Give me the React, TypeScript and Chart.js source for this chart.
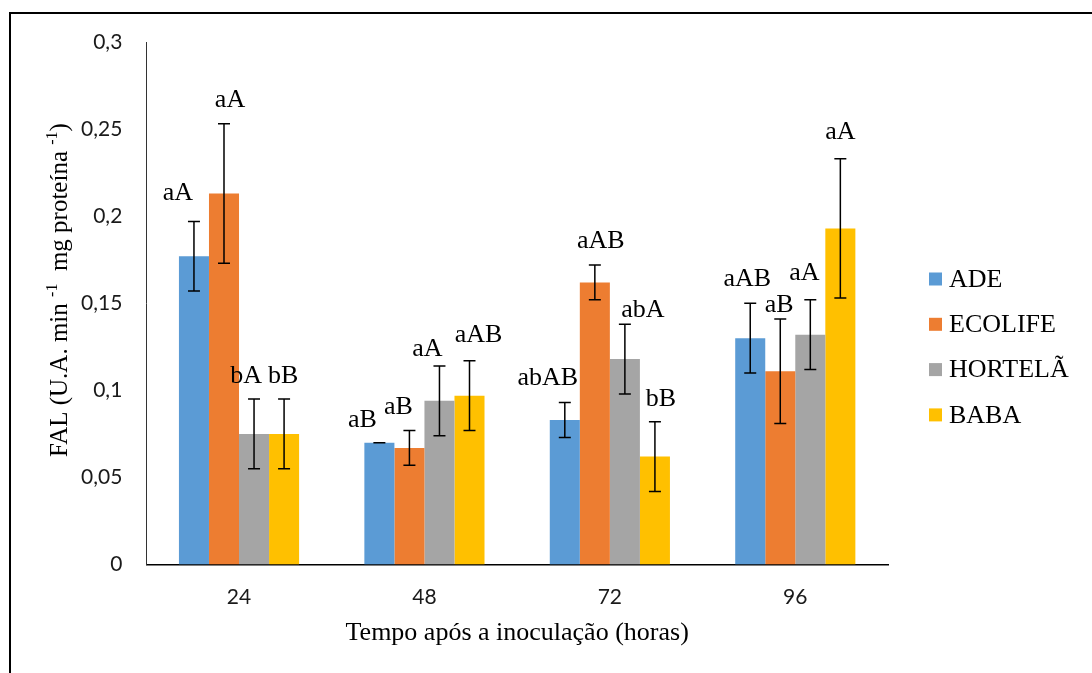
import React, { useEffect, useRef } from "react";
import { Chart, registerables } from "chart.js";

Chart.register(...registerables);

const categories = ["24", "48", "72", "96"];
const seriesNames = ["ADE", "ECOLIFE", "HORTELÃ", "BABA"];
const ade = [0.177, 0.07, 0.083, 0.13];
const ecolife = [0.213, 0.067, 0.162, 0.111];
const hortela = [0.075, 0.094, 0.118, 0.132];
const baba = [0.075, 0.097, 0.062, 0.193];
const adeErr = [0.02, 0, 0.01, 0.02];
const ecolifeErr = [0.04, 0.01, 0.01, 0.03];
const hortelaErr = [0.02, 0.02, 0.02, 0.02];
const babaErr = [0.02, 0.02, 0.02, 0.04];
const adeLabels = ["aA", "aB", "abAB", "aAB"];
const ecolifeLabels = ["aA", "aB", "aAB", "aB"];
const hortelaLabels = ["bA", "aA", "abA", "aA"];
const babaLabels = ["bB", "aAB", "bB", "aA"];
const yTicks = [0, 0.05, 0.1, 0.15, 0.2, 0.25, 0.3];
const xTitle = "Tempo após a inoculação (horas)";
const yTitleParts = [
  { text: "FAL (U.A. min ", sup: false },
  { text: "-1", sup: true },
  { text: "  mg proteína ", sup: false },
  { text: "-1", sup: true },
  { text: ")", sup: false },
];
const colors = ["#5B9BD5", "#ED7D31", "#A5A5A5", "#FFC000"];

const values = [ade, ecolife, hortela, baba];
const errors = [adeErr, ecolifeErr, hortelaErr, babaErr];
const letters = [adeLabels, ecolifeLabels, hortelaLabels, babaLabels];

// small manual nudges of the letter labels (like hand-placed labels in the source)
const LABEL_NUDGE_X = [
  [-16, -17, -17, -3],
  [6, -11, 6, -1],
  [-8, -12, 18, -6],
  [-1, 9, 6, 0],
];
const LABEL_NUDGE_Y = [
  [-5, 1, -1, -1],
  [0, 0, 0, 10],
  [0, 6, 9, -3],
  [0, -2, 1, -3],
];

const SERIF = "'Liberation Serif', 'Times New Roman', serif";
const SANS = "Lato, 'Open Sans', sans-serif";

const extrasPlugin = {
  id: "extras",
  afterDatasetsDraw(chart: any) {
    const ctx = chart.ctx;
    const yScale = chart.scales.y;
    ctx.save();
    chart.data.datasets.forEach((ds: any, i: number) => {
      const meta = chart.getDatasetMeta(i);
      meta.data.forEach((bar: any, j: number) => {
        const v = values[i][j];
        const e = errors[i][j];
        const yTop = yScale.getPixelForValue(v + e);
        const yBot = yScale.getPixelForValue(v - e);
        const x = bar.x;
        ctx.strokeStyle = "#000";
        ctx.lineWidth = 1.5;
        ctx.beginPath();
        ctx.moveTo(x, yTop);
        ctx.lineTo(x, yBot);
        ctx.moveTo(x - 6, yTop);
        ctx.lineTo(x + 6, yTop);
        ctx.moveTo(x - 6, yBot);
        ctx.lineTo(x + 6, yBot);
        ctx.stroke();
        ctx.fillStyle = "#000";
        ctx.font = `26px ${SERIF}`;
        ctx.textAlign = "center";
        ctx.textBaseline = "alphabetic";
        ctx.fillText(
          letters[i][j],
          x + LABEL_NUDGE_X[i][j],
          yTop - 16.5 + LABEL_NUDGE_Y[i][j]
        );
      });
    });
    ctx.restore();
  },
  afterDraw(chart: any) {
    const ctx = chart.ctx;
    const area = chart.chartArea;
    ctx.save();
    // legend
    const lx = area.right + 41;
    const ly0 = 279;
    const step = 45.3;
    seriesNames.forEach((name, i) => {
      const cy = ly0 + i * step;
      ctx.fillStyle = colors[i];
      ctx.fillRect(lx, cy - 6.5, 13, 13);
      ctx.fillStyle = "#000";
      ctx.font = `26px ${SERIF}`;
      ctx.textAlign = "left";
      ctx.textBaseline = "middle";
      ctx.fillText(name, lx + 20, cy + 1);
    });
    // y title with superscripts
    const mainFont = `25px ${SERIF}`;
    const supFont = `16px ${SERIF}`;
    let total = 0;
    yTitleParts.forEach((p) => {
      ctx.font = p.sup ? supFont : mainFont;
      total += ctx.measureText(p.text).width;
    });
    const cx = 67;
    const cy = 290;
    ctx.translate(cx, cy + total / 2);
    ctx.rotate(-Math.PI / 2);
    ctx.fillStyle = "#000";
    ctx.textAlign = "left";
    ctx.textBaseline = "alphabetic";
    let off = 0;
    yTitleParts.forEach((p) => {
      ctx.font = p.sup ? supFont : mainFont;
      ctx.fillText(p.text, off, p.sup ? -10 : 0);
      off += ctx.measureText(p.text).width;
    });
    ctx.setTransform(1, 0, 0, 1, 0, 0);
    // outer frame
    ctx.strokeStyle = "#000";
    ctx.lineWidth = 2;
    ctx.beginPath();
    ctx.moveTo(10, 700);
    ctx.lineTo(10, 13);
    ctx.lineTo(1100, 13);
    ctx.stroke();
    ctx.restore();
  },
};

export default function App() {
  const canvasRef = useRef<HTMLCanvasElement | null>(null);

  useEffect(() => {
    const canvas = canvasRef.current;
    if (!canvas) return;
    const chart = new Chart(canvas, {
      type: "bar",
      data: {
        labels: categories,
        datasets: seriesNames.map((name, i) => ({
          label: name,
          data: values[i],
          backgroundColor: colors[i],
          borderWidth: 0,
          barPercentage: 1,
          categoryPercentage: 0.648,
        })),
      },
      options: {
        animation: false,
        responsive: false,
        devicePixelRatio: 1,
        layout: { padding: { left: 57, right: 204, top: 42, bottom: 24 } },
        plugins: {
          legend: { display: false },
          tooltip: { enabled: false },
        },
        scales: {
          x: {
            grid: { display: false, drawTicks: false },
            border: { display: true, color: "#000", width: 1.5 },
            ticks: {
              font: { family: SANS, size: 21 },
              color: "#1a1a1a",
              padding: 20,
            },
            title: {
              display: true,
              text: xTitle,
              font: { family: SERIF, size: 26 },
              color: "#000",
              padding: { top: -12, bottom: 0 },
            },
          },
          y: {
            min: 0,
            max: 0.3,
            grid: { display: false, drawTicks: false },
            border: { display: true, color: "#333", width: 1 },
            afterBuildTicks: (axis: any) => {
              axis.ticks = yTicks.map((v) => ({ value: v }));
            },
            ticks: {
              font: { family: SANS, size: 21 },
              color: "#1a1a1a",
              padding: 24,
              callback: (v: any) => String(v).replace(".", ","),
            },
          },
        },
      },
      plugins: [extrasPlugin],
    });
    return () => chart.destroy();
  }, []);

  return (
    <div
      style={{
        position: "fixed",
        left: 0,
        top: 0,
        width: 1092,
        height: 673,
        overflow: "hidden",
        background: "#fff",
      }}
    >
      <canvas
        ref={canvasRef}
        width={1092}
        height={673}
        style={{ width: 1092, height: 673, display: "block" }}
      />
    </div>
  );
}
